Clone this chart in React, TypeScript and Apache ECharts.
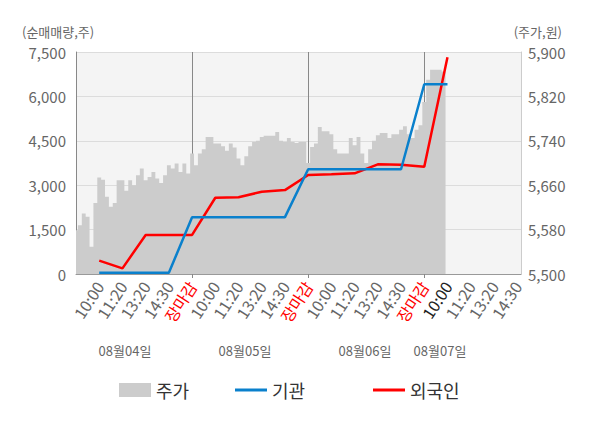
import React, { useEffect, useRef } from 'react';
import * as echarts from 'echarts';

// ---- data ----
const dateLabels = ['08월04일', '08월05일', '08월06일', '08월07일'];
const slotLabels = ['10:00', '11:20', '13:20', '14:30', '장마감'];
const STEPS_PER_SLOT = 6;
const SLOTS_PER_DAY = 5;
const TOTAL_POINTS = 116;

// price (원), sampled along the time axis
const priceDay1 = [5579, 5588, 5609, 5603, 5549, 5628, 5674, 5670, 5639, 5621, 5628, 5669, 5669, 5650, 5669, 5660, 5678, 5690, 5669, 5675, 5684, 5672, 5664, 5678, 5696, 5690, 5699, 5684, 5699, 5681];
const priceDay2 = [5717, 5696, 5717, 5725, 5747, 5747, 5735, 5735, 5730, 5722, 5735, 5728, 5708, 5696, 5712, 5730, 5738, 5740, 5747, 5749, 5749, 5749, 5756, 5740, 5738, 5745, 5738, 5736, 5738, 5738];
const priceDay3 = [5700, 5729, 5735, 5765, 5757, 5757, 5752, 5725, 5717, 5717, 5717, 5745, 5732, 5747, 5717, 5700, 5725, 5740, 5750, 5754, 5754, 5745, 5752, 5752, 5760, 5766, 5752, 5745, 5760, 5768];
const priceDay4 = [5810, 5850, 5868, 5868, 5868, 5865];

// net buying (주) at each labelled time slot
const instNet = [40, 40, 40, 40, 1920, 1920, 1920, 1920, 1920, 3540, 3540, 3540, 3540, 3540, 6410, 6410];
const foreignNet = [450, 190, 1320, 1320, 1320, 2575, 2590, 2780, 2835, 3344, 3370, 3400, 3705, 3690, 3625, 7320];

const volumeAxis = { min: 0, max: 7500, interval: 1500 };
const priceAxis = { min: 5500, max: 5900, interval: 80 };

const FONT = '"Noto Sans CJK KR", "Noto Sans", sans-serif';

export default function App() {
  const ref = useRef<HTMLDivElement>(null);

  useEffect(() => {
    document.body.style.margin = '0';
    if (!ref.current) return;
    const chart = echarts.init(ref.current, undefined, { renderer: 'svg' });

    const stepDay = STEPS_PER_SLOT * SLOTS_PER_DAY;
    const categories: string[] = [];
    const tickText: string[] = [];
    for (let i = 0; i < TOTAL_POINTS; i++) {
      categories.push(`p${i}`);
      if (i > 0 && i % STEPS_PER_SLOT === 0) {
        tickText.push(slotLabels[(i / STEPS_PER_SLOT - 1) % SLOTS_PER_DAY]);
      } else tickText.push('');
    }

    const prices = [...priceDay1, ...priceDay2, ...priceDay3, ...priceDay4];
    const priceData = categories.map((_, i) => (i < prices.length ? prices[i] : null));

    const slotSeries = (vals: number[]) =>
      categories.map((_, i) => {
        if (i > 0 && i % STEPS_PER_SLOT === 0) {
          const k = i / STEPS_PER_SLOT - 1;
          return k < vals.length ? vals[k] : null;
        }
        return null;
      });

    const lastDayFirst = 3 * stepDay + STEPS_PER_SLOT;
    const dayTick = (index: number) => index > 0 && index % stepDay === 0;
    const dateX = [125, 245, 365, 440];

    chart.setOption({
      animation: false,
      textStyle: { fontFamily: FONT },
      grid: {
        left: 76,
        right: 79,
        top: 52,
        bottom: 154,
        show: true,
        backgroundColor: '#f4f4f4',
        borderWidth: 0,
      },
      legend: [
        {
          data: ['주가'],
          left: 114,
          top: 376,
          icon: 'rect',
          itemWidth: 32,
          itemHeight: 14,
          textStyle: { fontSize: 18, color: '#333', fontFamily: FONT },
        },
        {
          data: ['기관'],
          left: 230,
          top: 376,
          icon: 'rect',
          itemWidth: 32,
          itemHeight: 3,
          textStyle: { fontSize: 18, color: '#333', fontFamily: FONT },
        },
        {
          data: ['외국인'],
          left: 368,
          top: 376,
          icon: 'rect',
          itemWidth: 32,
          itemHeight: 3,
          textStyle: { fontSize: 18, color: '#333', fontFamily: FONT },
        },
      ],
      xAxis: {
        type: 'category',
        data: categories,
        boundaryGap: false,
        axisLine: { show: true, lineStyle: { color: '#999', width: 1 } },
        axisTick: {
          show: true,
          interval: (index: number) => dayTick(index),
          length: 4,
          lineStyle: { color: '#888' },
        },
        splitLine: {
          show: true,
          interval: (index: number) => dayTick(index),
          lineStyle: { color: '#888', width: 1 },
        },
        axisLabel: {
          interval: (index: number) => tickText[index] !== '',
          rotate: 57,
          margin: 9,
          fontSize: 16,
          color: '#666',
          fontFamily: FONT,
          formatter: (_v: string, index: number) => {
            const t = tickText[index];
            if (t === '장마감') return `{red|${t}}`;
            if (index === lastDayFirst) return `{dark|${t}}`;
            return t;
          },
          rich: {
            red: { color: '#ff0000', fontSize: 16, fontFamily: FONT },
            dark: { color: '#222', fontSize: 16, fontFamily: FONT },
          },
        },
      },
      yAxis: [
        {
          type: 'value',
          position: 'left',
          ...volumeAxis,
          axisLine: { show: true, lineStyle: { color: '#888' } },
          axisTick: { show: false },
          splitLine: { show: true, lineStyle: { color: '#dcdcdc' } },
          axisLabel: {
            color: '#666',
            fontSize: 15,
            margin: 10,
            fontFamily: FONT,
            formatter: (v: number) => v.toLocaleString('en-US'),
          },
        },
        {
          type: 'value',
          position: 'right',
          ...priceAxis,
          axisLine: { show: true, lineStyle: { color: '#ccc' } },
          axisTick: { show: false },
          splitLine: { show: false },
          axisLabel: {
            color: '#666',
            fontSize: 15,
            margin: 7,
            fontFamily: FONT,
            formatter: (v: number) => v.toLocaleString('en-US'),
          },
        },
      ],
      graphic: [
        {
          type: 'text',
          left: 22,
          top: 25,
          style: { text: '(순매매량,주)', fill: '#666', font: `13px ${FONT}` },
        },
        {
          type: 'text',
          right: 38,
          top: 25,
          style: { text: '(주가,원)', fill: '#666', font: `13px ${FONT}` },
        },
        ...dateLabels.map((d, i) => ({
          type: 'text',
          x: dateX[i],
          y: 350,
          style: {
            text: d,
            fill: '#666',
            font: `13px ${FONT}`,
            align: 'center',
            verticalAlign: 'middle',
          },
        })),
      ],
      series: [
        {
          name: '주가',
          type: 'line',
          yAxisIndex: 1,
          data: priceData,
          step: 'middle',
          showSymbol: false,
          color: '#cccccc',
          lineStyle: { width: 0, color: '#cccccc' },
          areaStyle: { color: '#cccccc', opacity: 1 },
          z: 1,
        },
        {
          name: '외국인',
          type: 'line',
          yAxisIndex: 0,
          data: slotSeries(foreignNet),
          connectNulls: true,
          showSymbol: false,
          color: '#ff0000',
          lineStyle: { width: 2.5, color: '#ff0000' },
          z: 3,
        },
        {
          name: '기관',
          type: 'line',
          yAxisIndex: 0,
          data: slotSeries(instNet),
          connectNulls: true,
          showSymbol: false,
          color: '#0a80cc',
          lineStyle: { width: 2.5, color: '#0a80cc' },
          z: 4,
        },
      ],
    });

    return () => chart.dispose();
  }, []);

  return <div ref={ref} style={{ width: 600, height: 428 }} />;
}
